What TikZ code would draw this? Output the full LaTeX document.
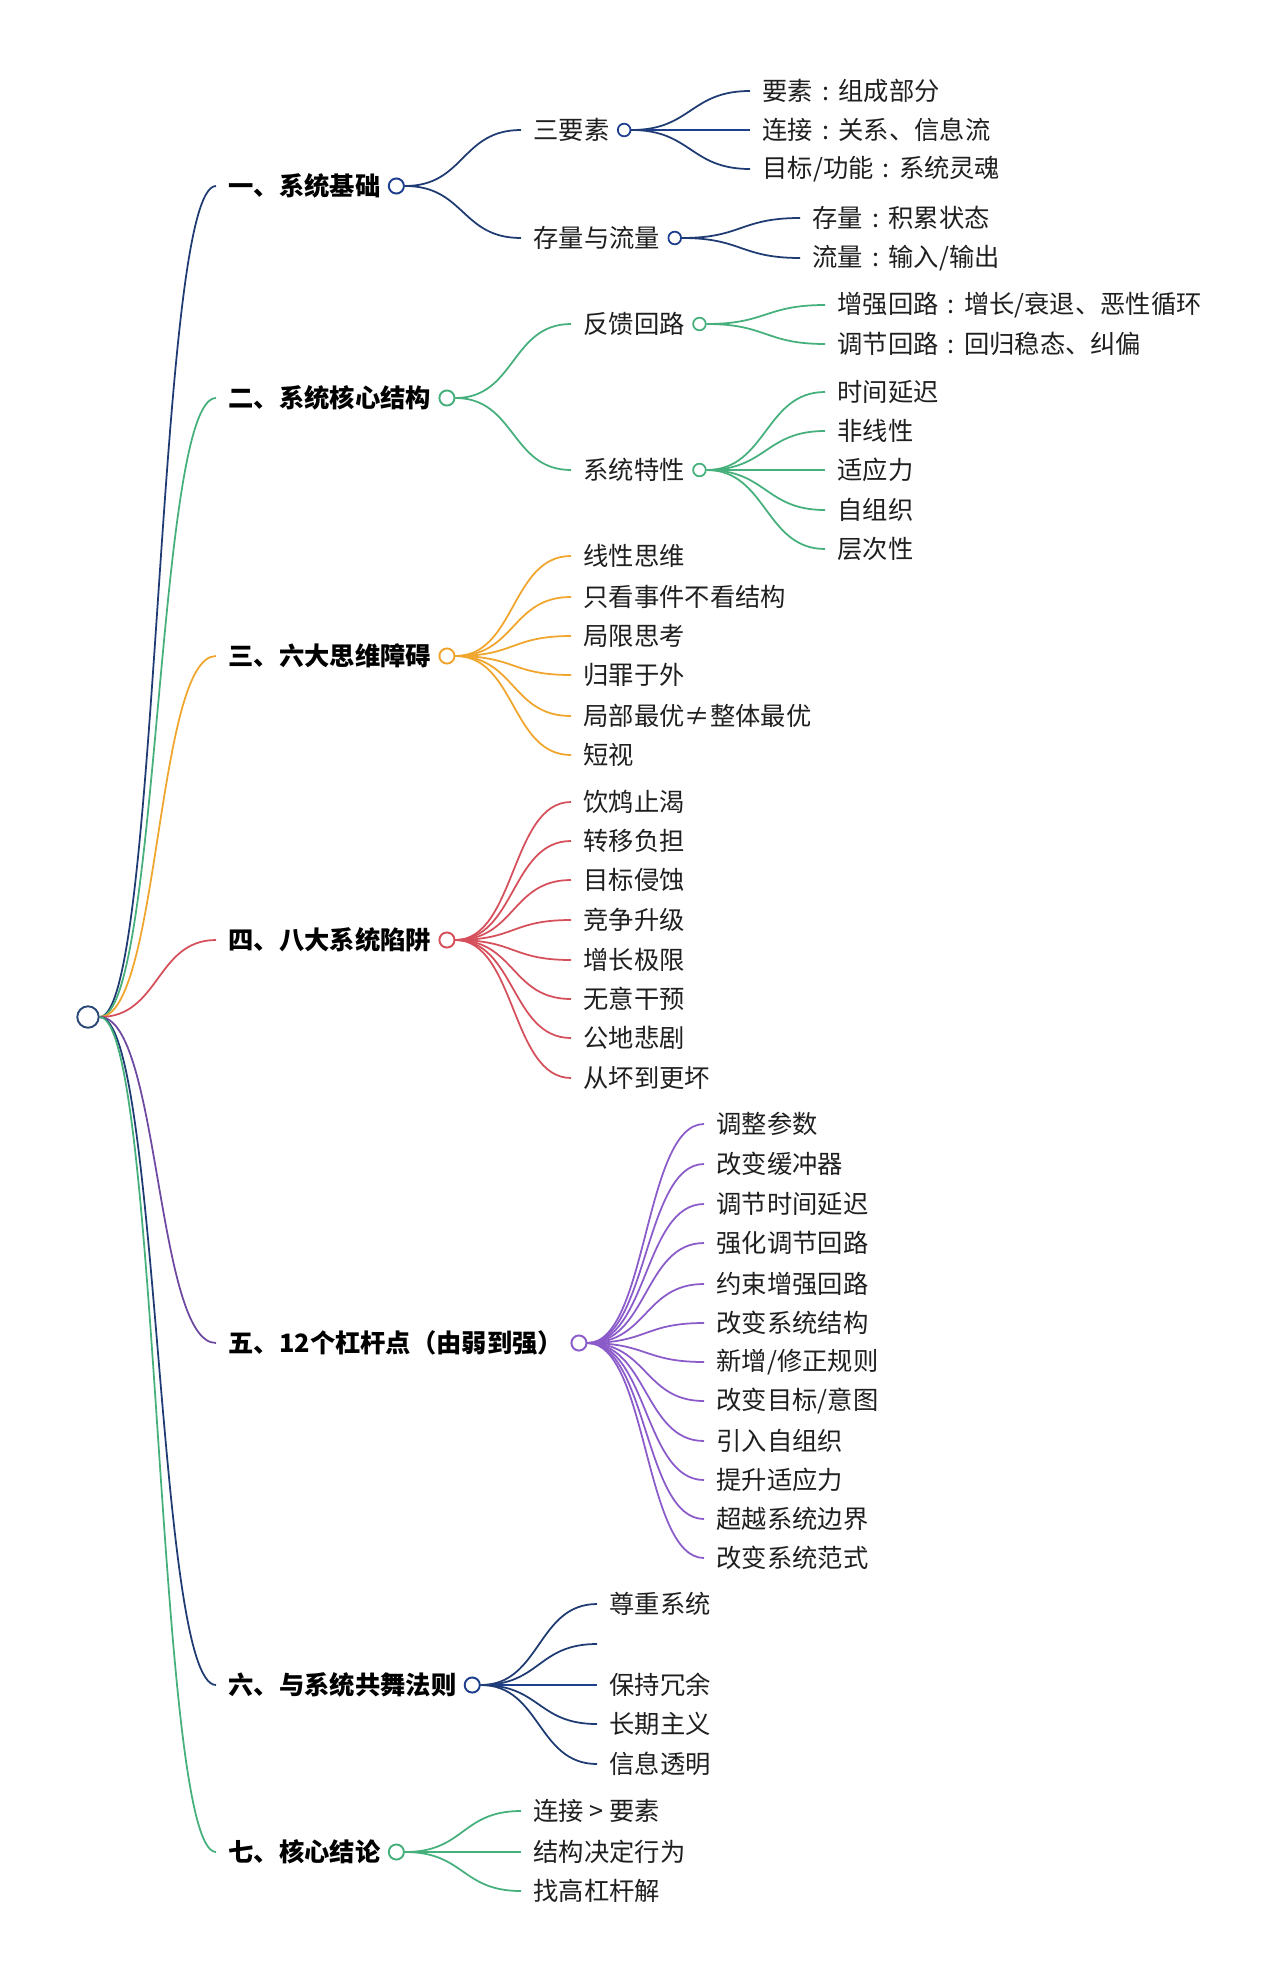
\documentclass[tikz,border=0pt]{standalone}
\usepackage{fontspec}
\setmainfont{Noto Sans CJK SC}
\usepackage{xcolor}
\usetikzlibrary{positioning}
\definecolor{navyc}{HTML}{1F3B73}
\definecolor{greenc}{HTML}{46B07C}
\definecolor{orangec}{HTML}{F0A52C}
\definecolor{redc}{HTML}{D6505C}
\definecolor{purplec}{HTML}{8A5BC9}
\definecolor{bluec}{HTML}{1E3F8E}
\definecolor{rootc}{HTML}{2B4A78}
\newcommand{\zcolon}{\makebox[1em][c]{:}}
\tikzset{
  topic/.style={anchor=west, inner xsep=7pt, inner ysep=2pt,
                font=\fontsize{14.4}{17}\selectfont\bfseries, text=black},
  item/.style={anchor=west, inner xsep=7pt, inner ysep=2pt,
               font=\fontsize{14.4}{17}\selectfont, text=black!88},
  hub/.style={circle, draw=#1, fill=white, line width=1.1pt,
              minimum size=8.6pt, inner sep=0pt},
  knot/.style={circle, draw=#1, fill=white, line width=1pt,
               minimum size=7.2pt, inner sep=0pt},
  twig/.style={draw=#1, line width=1pt},
  branch/.style={to path={.. controls +(60,0) and +(-60,0) .. (\tikztotarget)}},
}

\begin{document}
\begin{tikzpicture}[x=0.02cm, y=-0.02cm]
  \useasboundingbox (0,0) rectangle (1280,1984);

  % Root
  \node[hub=rootc, minimum size=12.2pt] (root) at (88,1017) {};

  % Sections
  \node[topic] (s1) at (216,186) {一、系统基础};
  \node[hub=bluec, right=-3pt of s1] (s1o) {};
  \node[topic] (s2) at (216,398) {二、系统核心结构};
  \node[hub=greenc, right=-3pt of s2] (s2o) {};
  \node[topic] (s3) at (216,656) {三、六大思维障碍};
  \node[hub=orangec, right=-3pt of s3] (s3o) {};
  \node[topic] (s4) at (216,940) {四、八大系统陷阱};
  \node[hub=redc, right=-3pt of s4] (s4o) {};
  \node[topic] (s5) at (216,1343) {五、12个杠杆点（由弱到强）};
  \node[hub=purplec, right=-3pt of s5] (s5o) {};
  \node[topic] (s6) at (216,1685) {六、与系统共舞法则};
  \node[hub=bluec, right=-3pt of s6] (s6o) {};
  \node[topic] (s7) at (216,1852) {七、核心结论};
  \node[hub=greenc, right=-3pt of s7] (s7o) {};

  % Root to sections
  \draw[twig=navyc] (root.east) to[branch] (s1.west);
  \draw[twig=greenc] (root.east) to[branch] (s2.west);
  \draw[twig=orangec] (root.east) to[branch] (s3.west);
  \draw[twig=redc] (root.east) to[branch] (s4.west);
  \draw[twig=purplec!80!black] (root.east) to[branch] (s5.west);
  \draw[twig=navyc] (root.east) to[branch] (s6.west);
  \draw[twig=greenc] (root.east) to[branch] (s7.west);

  % 一
  \node[item] (s1a) at (521,130) {三要素};
  \node[knot=bluec, right=-3pt of s1a] (s1ao) {};
  \node[item] (s1b) at (521,238) {存量与流量};
  \node[knot=bluec, right=-3pt of s1b] (s1bo) {};
  \node[item] (s1a1) at (750,91) {要素\zcolon 组成部分};
  \node[item] (s1a2) at (750,130) {连接\zcolon 关系、信息流};
  \node[item] (s1a3) at (750,169) {目标/功能\zcolon 系统灵魂};
  \node[item] (s1b1) at (800,218) {存量\zcolon 积累状态};
  \node[item] (s1b2) at (800,258) {流量\zcolon 输入/输出};
  \draw[twig=navyc] (s1o.east) to[branch] (s1a.west);
  \draw[twig=navyc] (s1o.east) to[branch] (s1b.west);
  \draw[twig=navyc] (s1ao.east) to[branch] (s1a1.west);
  \draw[twig=bluec] (s1ao.east) to[branch] (s1a2.west);
  \draw[twig=navyc] (s1ao.east) to[branch] (s1a3.west);
  \draw[twig=navyc] (s1bo.east) to[branch] (s1b1.west);
  \draw[twig=navyc] (s1bo.east) to[branch] (s1b2.west);

  % 二
  \node[item] (s2a) at (571,324) {反馈回路};
  \node[knot=greenc, right=-3pt of s2a] (s2ao) {};
  \node[item] (s2b) at (571,470) {系统特性};
  \node[knot=greenc, right=-3pt of s2b] (s2bo) {};
  \node[item] (s2a1) at (825,305) {增强回路\zcolon 增长/衰退、恶性循环};
  \node[item] (s2a2) at (825,344) {调节回路\zcolon 回归稳态、纠偏};
  \node[item] (s2b1) at (825,392) {时间延迟};
  \node[item] (s2b2) at (825,431) {非线性};
  \node[item] (s2b3) at (825,470) {适应力};
  \node[item] (s2b4) at (825,510) {自组织};
  \node[item] (s2b5) at (825,549) {层次性};
  \draw[twig=greenc] (s2o.east) to[branch] (s2a.west);
  \draw[twig=greenc] (s2o.east) to[branch] (s2b.west);
  \draw[twig=greenc] (s2ao.east) to[branch] (s2a1.west);
  \draw[twig=greenc] (s2ao.east) to[branch] (s2a2.west);
  \draw[twig=greenc] (s2bo.east) to[branch] (s2b1.west);
  \draw[twig=greenc] (s2bo.east) to[branch] (s2b2.west);
  \draw[twig=greenc] (s2bo.east) to[branch] (s2b3.west);
  \draw[twig=greenc] (s2bo.east) to[branch] (s2b4.west);
  \draw[twig=greenc] (s2bo.east) to[branch] (s2b5.west);

  % 三
  \node[item] (s3a) at (571,556) {线性思维};
  \node[item] (s3b) at (571,597) {只看事件不看结构};
  \node[item] (s3c) at (571,636) {局限思考};
  \node[item] (s3d) at (571,675) {归罪于外};
  \node[item] (s3e) at (571,716) {局部最优≠整体最优};
  \node[item] (s3f) at (571,755) {短视};
  \draw[twig=orangec] (s3o.east) to[branch] (s3a.west);
  \draw[twig=orangec] (s3o.east) to[branch] (s3b.west);
  \draw[twig=orangec] (s3o.east) to[branch] (s3c.west);
  \draw[twig=orangec] (s3o.east) to[branch] (s3d.west);
  \draw[twig=orangec] (s3o.east) to[branch] (s3e.west);
  \draw[twig=orangec] (s3o.east) to[branch] (s3f.west);

  % 四
  \node[item] (s4a) at (571,802) {饮鸩止渴};
  \node[item] (s4b) at (571,841) {转移负担};
  \node[item] (s4c) at (571,880) {目标侵蚀};
  \node[item] (s4d) at (571,920) {竞争升级};
  \node[item] (s4e) at (571,960) {增长极限};
  \node[item] (s4f) at (571,999) {无意干预};
  \node[item] (s4g) at (571,1038) {公地悲剧};
  \node[item] (s4h) at (571,1078) {从坏到更坏};
  \draw[twig=redc] (s4o.east) to[branch] (s4a.west);
  \draw[twig=redc] (s4o.east) to[branch] (s4b.west);
  \draw[twig=redc] (s4o.east) to[branch] (s4c.west);
  \draw[twig=redc] (s4o.east) to[branch] (s4d.west);
  \draw[twig=redc] (s4o.east) to[branch] (s4e.west);
  \draw[twig=redc] (s4o.east) to[branch] (s4f.west);
  \draw[twig=redc] (s4o.east) to[branch] (s4g.west);
  \draw[twig=redc] (s4o.east) to[branch] (s4h.west);

  % 五
  \node[item] (s5a) at (704,1124) {调整参数};
  \node[item] (s5b) at (704,1164) {改变缓冲器};
  \node[item] (s5c) at (704,1204) {调节时间延迟};
  \node[item] (s5d) at (704,1243) {强化调节回路};
  \node[item] (s5e) at (704,1284) {约束增强回路};
  \node[item] (s5f) at (704,1323) {改变系统结构};
  \node[item] (s5g) at (704,1362) {新增/修正规则};
  \node[item] (s5h) at (704,1401) {改变目标/意图};
  \node[item] (s5i) at (704,1441) {引入自组织};
  \node[item] (s5j) at (704,1480) {提升适应力};
  \node[item] (s5k) at (704,1519) {超越系统边界};
  \node[item] (s5l) at (704,1558) {改变系统范式};
  \draw[twig=purplec] (s5o.east) to[branch] (s5a.west);
  \draw[twig=purplec] (s5o.east) to[branch] (s5b.west);
  \draw[twig=purplec] (s5o.east) to[branch] (s5c.west);
  \draw[twig=purplec] (s5o.east) to[branch] (s5d.west);
  \draw[twig=purplec] (s5o.east) to[branch] (s5e.west);
  \draw[twig=purplec] (s5o.east) to[branch] (s5f.west);
  \draw[twig=purplec] (s5o.east) to[branch] (s5g.west);
  \draw[twig=purplec] (s5o.east) to[branch] (s5h.west);
  \draw[twig=purplec] (s5o.east) to[branch] (s5i.west);
  \draw[twig=purplec] (s5o.east) to[branch] (s5j.west);
  \draw[twig=purplec] (s5o.east) to[branch] (s5k.west);
  \draw[twig=purplec] (s5o.east) to[branch] (s5l.west);

  % 六 (second item is blurred in the source)
  \node[item] (s6a) at (597,1604) {尊重系统};
  \coordinate (s6b) at (597,1644);
  \node[item] (s6c) at (597,1685) {保持冗余};
  \node[item] (s6d) at (597,1724) {长期主义};
  \node[item] (s6e) at (597,1764) {信息透明};
  \draw[twig=navyc] (s6o.east) to[branch] (s6a.west);
  \draw[twig=navyc] (s6o.east) to[branch] (s6b);
  \draw[twig=bluec] (s6o.east) to[branch] (s6c.west);
  \draw[twig=navyc] (s6o.east) to[branch] (s6d.west);
  \draw[twig=navyc] (s6o.east) to[branch] (s6e.west);

  % 七
  \node[item] (s7a) at (521,1811) {连接 > 要素};
  \node[item] (s7b) at (521,1852) {结构决定行为};
  \node[item] (s7c) at (521,1891) {找高杠杆解};
  \draw[twig=greenc] (s7o.east) to[branch] (s7a.west);
  \draw[twig=greenc] (s7o.east) to[branch] (s7b.west);
  \draw[twig=greenc] (s7o.east) to[branch] (s7c.west);

\end{tikzpicture}
\end{document}
